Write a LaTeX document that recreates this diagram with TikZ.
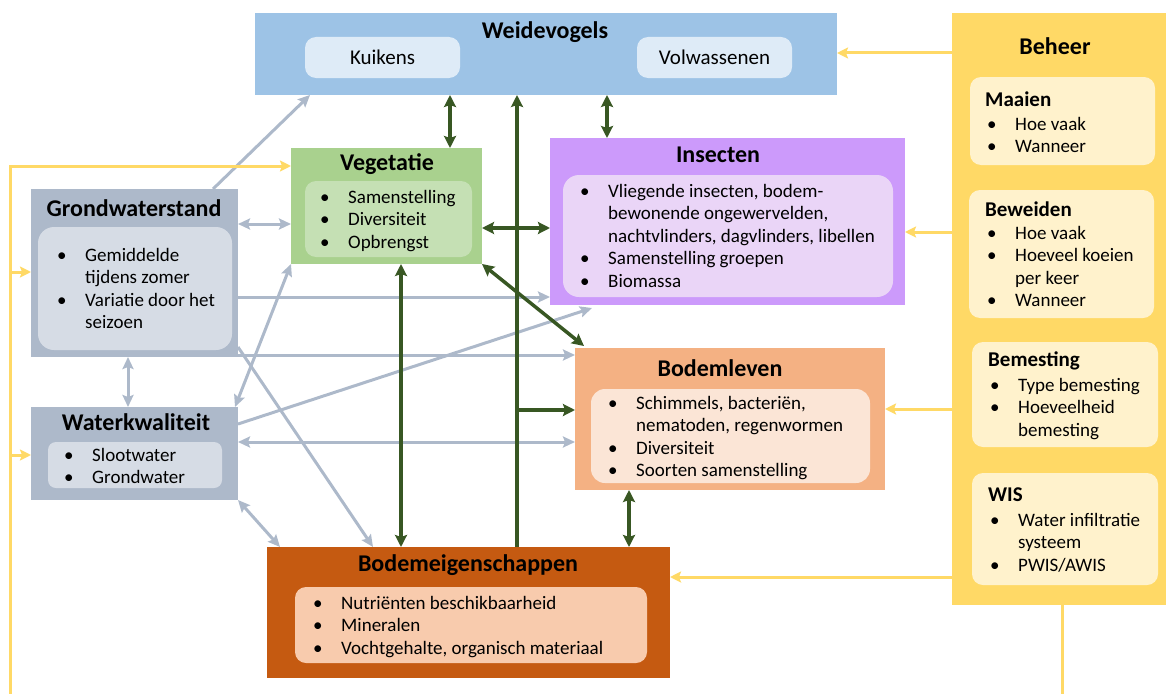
\documentclass[tikz,border=0pt]{standalone}
\usepackage{fontspec}
\setmainfont{Carlito}
\usetikzlibrary{arrows.meta,calc,fit}
\definecolor{wvfill}{HTML}{9DC3E6}
\definecolor{wvin}{HTML}{DEEBF7}
\definecolor{vegfill}{HTML}{A9D18E}
\definecolor{vegin}{HTML}{C5E0B4}
\definecolor{insfill}{HTML}{CC9AFB}
\definecolor{insin}{HTML}{EAD5F7}
\definecolor{gwfill}{HTML}{ADB9CA}
\definecolor{gwin}{HTML}{D6DCE5}
\definecolor{blfill}{HTML}{F4B183}
\definecolor{blin}{HTML}{FBE5D6}
\definecolor{befill}{HTML}{C55A11}
\definecolor{bein}{HTML}{F8CBAD}
\definecolor{bhfill}{HTML}{FFD966}
\definecolor{bhin}{HTML}{FFF2CC}
\definecolor{cgray}{HTML}{ADB9CA}
\definecolor{cgreen}{HTML}{385723}
\definecolor{cyellow}{HTML}{FFD966}
\newcommand\mybul{\makebox[28pt][l]{•}}
\newcommand\mycont{\hspace*{28pt}}
\newcommand\myblist[1]{\begin{tabular}[t]{@{}l@{}}#1\end{tabular}}
\tikzset{
  box/.style={inner sep=0pt, outer sep=0pt, draw=none},
  inbox/.style={box, rounded corners=11pt},
  ttl/.style={font=\fontsize{24}{28}\selectfont\bfseries, inner sep=0pt},
  sttl/.style={font=\fontsize{21}{25}\selectfont\bfseries, inner sep=0pt, anchor=west},
  itm/.style={font=\fontsize{19}{22.5}\selectfont, inner sep=0pt},
  bigitm/.style={font=\fontsize{21}{25}\selectfont, inner sep=0pt},
  lst/.style={itm, anchor=base west},
  garr/.style={draw=cgray, line width=3pt, -{Stealth[length=12pt,width=11pt,inset=2pt]}},
  gdarr/.style={draw=cgray, line width=3pt, {Stealth[length=12pt,width=11pt,inset=2pt]}-{Stealth[length=12pt,width=11pt,inset=2pt]}},
  gnarr/.style={draw=cgreen, line width=3.5pt, -{Stealth[length=12pt,width=12pt,inset=2pt]}},
  gndarr/.style={draw=cgreen, line width=3.5pt, {Stealth[length=12pt,width=12pt,inset=2pt]}-{Stealth[length=12pt,width=12pt,inset=2pt]}},
  yarr/.style={draw=cyellow, line width=3pt, -{Stealth[length=11pt,width=11pt,inset=2pt]}},
  yline/.style={draw=cyellow, line width=3pt},
}
\begin{document}
\begin{tikzpicture}[x=1pt,y=-1pt]
\useasboundingbox (0,0) rectangle (1166,693);
\clip (0,0) rectangle (1166,693);

% ---------- Weidevogels
\node[box, fill=wvfill, fit={(255,13)(837,95)}] (wv) {};
\node[ttl] (wvt) at (545,32) {Weidevogels};
\node[inbox, fill=wvin, fit={(305,37)(460,78)}] (wvk) {};
\node[bigitm] (wvkt) at (wvk.center) {Kuikens};
\node[inbox, fill=wvin, fit={(637,37)(792,78)}] (wvv) {};
\node[bigitm] (wvvt) at (wvv.center) {Volwassenen};

% ---------- Vegetatie
\node[box, fill=vegfill, fit={(291,148)(482,264)}] (veg) {};
\node[ttl] (vegt) at (387,164) {Vegetatie};
\node[inbox, fill=vegin, fit={(305,181)(472,257)}] (vegi) {};
\node[lst] (vegl) at (320,203) {\myblist{\mybul Samenstelling\\ \mybul Diversiteit\\ \mybul Opbrengst}};

% ---------- Insecten
\node[box, fill=insfill, fit={(550,138)(905,305)}] (ins) {};
\node[ttl] (inst) at (718,155) {Insecten};
\node[inbox, rounded corners=16pt, fill=insin, fit={(563,175)(893,297)}] (insi) {};
\node[lst] (insl) at (580,197) {\myblist{\mybul Vliegende insecten, bodem-\\ \mycont bewonende ongewervelden,\\ \mycont nachtvlinders, dagvlinders, libellen\\ \mybul Samenstelling groepen\\ \mybul Biomassa}};

% ---------- Grondwaterstand
\node[box, fill=gwfill, fit={(31,189)(238,357)}] (gw) {};
\node[ttl] (gwt) at (134,208) {Grondwaterstand};
\node[inbox, rounded corners=16pt, fill=gwin, fit={(38,227)(232,350)}] (gwi) {};
\node[lst] (gwl) at (57,261) {\myblist{\mybul Gemiddelde\\ \mycont tijdens zomer\\ \mybul Variatie door het\\ \mycont seizoen}};

% ---------- Waterkwaliteit
\node[box, fill=gwfill, fit={(31,407)(238,500)}] (wk) {};
\node[ttl] (wkt) at (136,422) {Waterkwaliteit};
\node[inbox, rounded corners=8pt, fill=gwin, fit={(48,442)(222,488)}] (wki) {};
\node[lst] (wkl) at (64,461) {\myblist{\mybul Slootwater\\ \mybul Grondwater}};

% ---------- Bodemleven
\node[box, fill=blfill, fit={(575,348)(885,490)}] (bl) {};
\node[ttl] (blt) at (720,368) {Bodemleven};
\node[inbox, rounded corners=14pt, fill=blin, fit={(591,389)(870,483)}] (bli) {};
\node[lst] (bll) at (608,409) {\myblist{\mybul Schimmels, bacteriën,\\ \mycont nematoden, regenwormen\\ \mybul Diversiteit\\ \mybul Soorten samenstelling}};

% ---------- Bodemeigenschappen
\node[box, fill=befill, fit={(267,547)(670,678)}] (be) {};
\node[ttl] (bet) at (468,565) {Bodemeigenschappen};
\node[inbox, fill=bein, fit={(295,587)(647,663)}] (bei) {};
\node[lst] (bel) at (313,609) {\myblist{\mybul Nutriënten beschikbaarheid\\ \mybul Mineralen\\ \mybul Vochtgehalte, organisch materiaal}};

% ---------- Beheer
\node[box, fill=bhfill, fit={(952,13)(1166,605)}] (bh) {};
\node[ttl] (bht) at (1055,46) {Beheer};
\node[inbox, fill=bhin, fit={(970,77)(1155,165)}] (mai) {};
\node[sttl] (mait) at (985,99) {Maaien};
\node[lst] (mail) at (987,130) {\myblist{\mybul Hoe vaak\\ \mybul Wanneer}};
\node[inbox, fill=bhin, fit={(969,190)(1154,318)}] (bew) {};
\node[sttl] (bewt) at (985,209) {Beweiden};
\node[lst] (bewl) at (987,239) {\myblist{\mybul Hoe vaak\\ \mybul Hoeveel koeien\\ \mycont per keer\\ \mybul Wanneer}};
\node[inbox, fill=bhin, fit={(972,342)(1158,447)}] (bem) {};
\node[sttl] (bemt) at (988,361) {Bemesting};
\node[lst] (beml) at (990,391) {\myblist{\mybul Type bemesting\\ \mybul Hoeveelheid\\ \mycont bemesting}};
\node[inbox, fill=bhin, fit={(972,473)(1158,585)}] (wis) {};
\node[sttl] (wist) at (988,495) {WIS};
\node[lst] (wisl) at (990,526) {\myblist{\mybul Water infiltratie\\ \mycont systeem\\ \mybul PWIS/AWIS}};

% ---------- gray connectors
\draw[garr] ($(gw.north west)+(182,0)$) -- ($(wv.south west)+(55,0)$);
\draw[gdarr] ($(gw.north east)+(0,35)$) -- ($(veg.north west)+(0,76)$);
\draw[garr] ($(gw.north east)+(0,108)$) -- ($(ins.north west)+(0,159)$);
\draw[garr] ($(gw.south east)+(0,-2)$) -- ($(bl.north west)+(0,7)$);
\draw[gdarr] ($(gw.south west)+(97,0)$) -- ($(wk.north west)+(97,0)$);
\draw[gdarr] (veg.south west) -- ($(wk.north east)+(-3,0)$);
\draw[garr] ($(gw.south east)+(0,-10)$) -- ($(be.north west)+(106,0)$);
\draw[garr] ($(wk.north east)+(0,17)$) -- ($(ins.south west)+(42,3)$);
\draw[gdarr] ($(wk.north east)+(0,35)$) -- ($(bl.north west)+(0,94)$);
\draw[gdarr] (wk.south east) -- ($(be.north west)+(13,0)$);

% ---------- green connectors
\draw[gndarr] ($(wv.south west)+(195,0)$) -- ($(veg.north west)+(159,0)$);
\draw[gndarr] ($(wv.south west)+(352,0)$) -- ($(ins.north west)+(57,0)$);
\draw[gnarr] ($(be.north west)+(250,0)$) -- ($(wv.south west)+(262,0)$);
\coordinate (jt) at ($(be.north west)+(250,-137)$);
\draw[gnarr] (jt) -- ($(bl.north west)+(0,62)$);
\draw[gndarr] ($(veg.north east)+(0,80)$) -- ($(ins.north west)+(0,90)$);
\draw[gndarr] ($(veg.south west)+(110,0)$) -- ($(be.north west)+(134,0)$);
\draw[gndarr] (veg.south east) -- ($(bl.north west)+(9,-2)$);
\draw[gndarr] ($(bl.south west)+(54,0)$) -- ($(be.north west)+(362,0)$);

% ---------- yellow connectors
\draw[yarr] ($(bh.north west)+(0,40)$) -- ($(wv.north east)+(0,40)$);
\draw[yarr] ($(bh.north west)+(0,219)$) -- ($(ins.north east)+(0,94)$);
\draw[yarr] ($(bh.north west)+(0,396)$) -- ($(bl.north east)+(0,61)$);
\draw[yarr] ($(bh.north west)+(0,564)$) -- ($(be.north east)+(0,30)$);
\coordinate (ybr) at (1062,700);
\draw[yline] ($(bh.south west)+(110,0)$) -- (ybr);
\coordinate (ybl) at (10,700);
\coordinate (ytl) at (10,166);
\draw[yarr] (ybl) -- (ytl) -- ($(veg.north west)+(0,18)$);
\coordinate (yg) at (10,272);
\draw[yarr] (yg) -- ($(gw.north west)+(0,83)$);
\coordinate (yw) at (10,455);
\draw[yarr] (yw) -- ($(wk.north west)+(0,48)$);
\end{tikzpicture}
\end{document}
